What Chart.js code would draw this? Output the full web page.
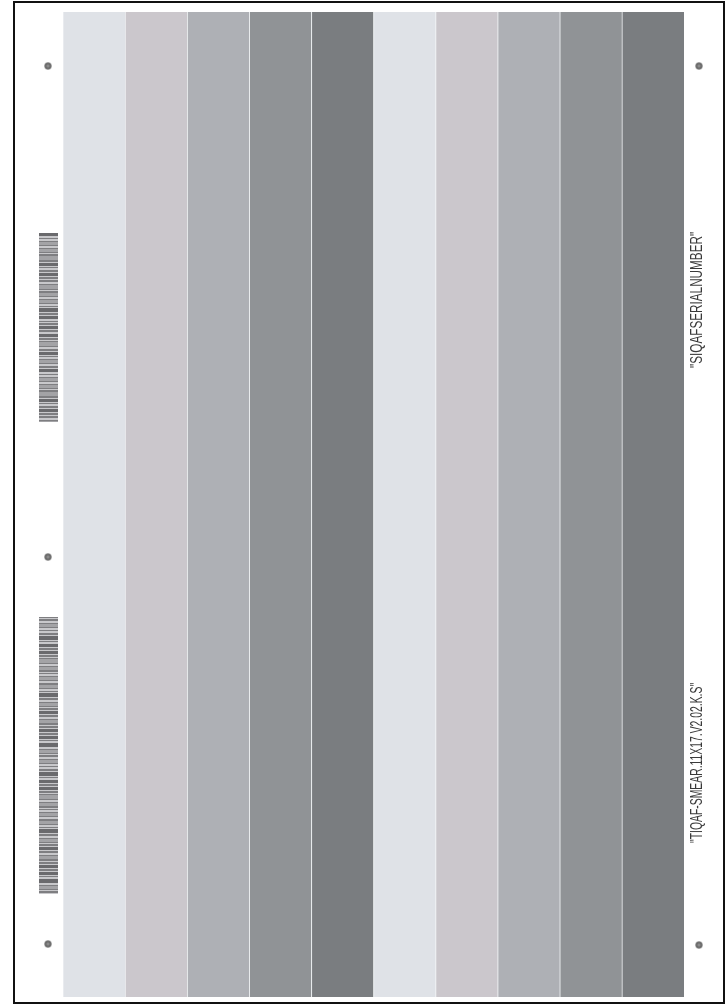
<!DOCTYPE html>
<html>
<head>
<meta charset="utf-8">
<script src="https://cdn.jsdelivr.net/npm/chart.js@4/dist/chart.umd.min.js"></script>
<style>
  html, body { margin: 0; padding: 0; background: #fff; }
  #wrap { position: relative; width: 728px; height: 1005px; overflow: hidden; }
  #myChart { position: absolute; left: 0; top: 0; }
  .frame { position: absolute; left: 13px; top: 1px; width: 708px; height: 999px; border: 2px solid #111; }
  .dot { position: absolute; width: 8px; height: 8px; border-radius: 50%;
         background: radial-gradient(circle, #8a8a8a 0 1px, #6a6a6a 2px, #747474 3px, rgba(120,120,120,0.35) 4px); }
  .barcode { position: absolute; left: 39px; width: 19px; }
  .label { position: absolute; font-family: "Liberation Sans Narrow", "Liberation Sans", Arial, sans-serif;
           font-size: 17px; color: #3a3a3a; white-space: nowrap; transform-origin: 0 0; }
</style>
</head>
<body>
<div id="wrap">
  <canvas id="myChart" width="728" height="1005"></canvas>
  <div class="frame"></div>
  <div id="deco"></div>
</div>
<script>
// bars (one full-height strip per tone, two runs of five)
const labels = ["1", "2", "3", "4", "5", "6", "7", "8", "9", "10"];
const values = [1, 1, 1, 1, 1, 1, 1, 1, 1, 1];
const colors = ["#dfe2e7", "#cbc7cc", "#aeb0b5", "#909396", "#7a7d80",
                "#dfe2e7", "#cbc7cc", "#aeb0b5", "#909396", "#7a7d80"];

// side texts
const texts = ['"SIQAFSERIALNUMBER"', '"TIQAF-SMEAR.11X17.V2.02.K.S"'];

// barcode stripe pattern (widths in px, alternate dark / light)
const stripes = "3212131213112421311221312122141123121312114121321121312231211412213112131221".split("").map(Number);

const config = {
  type: "bar",
  data: {
    labels,
    datasets: [{
      data: values,
      backgroundColor: colors,
      borderColor: "rgba(235,237,240,0.8)",
      borderWidth: { left: 1, right: 0, top: 0, bottom: 0 },
      borderSkipped: false,
      categoryPercentage: 1,
      barPercentage: 1,
    }],
  },
  options: {
    responsive: false,
    animation: false,
    layout: { padding: { left: 63, right: 44, top: 12, bottom: 8 } },
    scales: {
      x: { display: false },
      y: { display: false, min: 0, max: 1 },
    },
    plugins: {
      legend: { display: false },
      tooltip: { enabled: false },
    },
  },
};

const myChart = new Chart(document.getElementById("myChart"), config);

// decorations
const deco = document.getElementById("deco");

[[48, 66], [48, 557], [48, 944], [699, 66], [699, 945]].forEach(([x, y]) => {
  const d = document.createElement("div");
  d.className = "dot";
  d.style.left = (x - 4) + "px";
  d.style.top = (y - 4) + "px";
  deco.appendChild(d);
});

function barcode(top, height, offset) {
  const stops = [];
  let pos = 0, i = offset, dark = true;
  while (pos < height) {
    const w = stripes[i % stripes.length];
    const c = dark ? (w > 2 ? "#6a6a6d" : "#7e7e81") : (w > 2 ? "#a3a3a6" : "#c8c8cb");
    stops.push(`${c} ${pos}px ${pos + w}px`);
    pos += w; i++; dark = !dark;
  }
  const b = document.createElement("div");
  b.className = "barcode";
  b.style.top = top + "px";
  b.style.height = height + "px";
  b.style.background = `linear-gradient(to bottom, ${stops.join(", ")})`;
  deco.appendChild(b);
}
barcode(233, 189, 0);
barcode(617, 277, 17);

function sideText(txt, cx, yTop, yBottom) {
  const s = document.createElement("span");
  s.className = "label";
  s.textContent = txt;
  deco.appendChild(s);
  const w = s.offsetWidth, h = s.offsetHeight;
  const sx = (yBottom - yTop) / w;
  s.style.left = (cx - h / 2) + "px";
  s.style.top = yBottom + "px";
  s.style.transform = `rotate(-90deg) scaleX(${sx})`;
}
sideText(texts[0], 697, 232, 368);
sideText(texts[1], 697, 683, 843);
</script>
</body>
</html>
